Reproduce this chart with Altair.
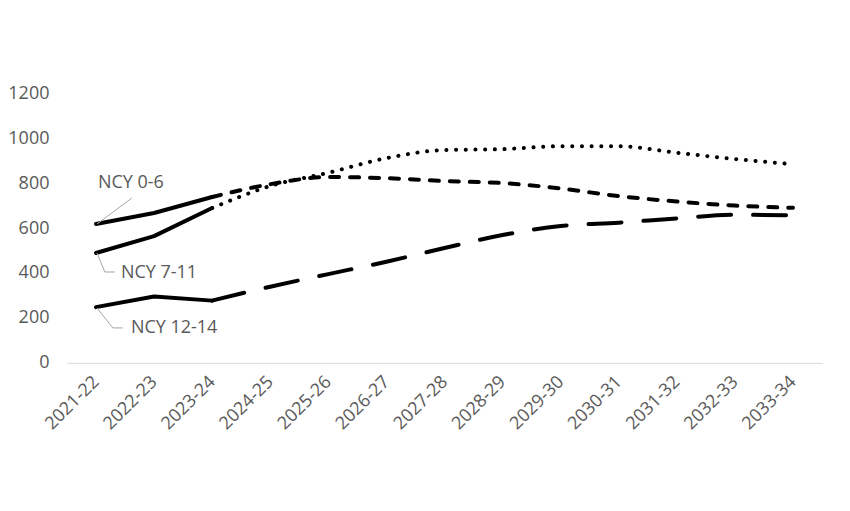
import altair as alt
import pandas as pd

years = ["2021-22", "2022-23", "2023-24", "2024-25", "2025-26", "2026-27", "2027-28",
         "2028-29", "2029-30", "2030-31", "2031-32", "2032-33", "2033-34"]
ncy_0_6 = [618, 667, 738, 795, 827, 822, 809, 800, 776, 742, 718, 700, 690]
ncy_7_11 = [489, 564, 689, 787, 846, 911, 947, 951, 964, 964, 935, 907, 884]
ncy_12_14 = [248, 295, 277, 339, 395, 450, 511, 569, 609, 624, 643, 659, 656]
series_names = ["NCY 0-6", "NCY 7-11", "NCY 12-14"]
n_hist = 3  # first three years are actuals

hist_rows, proj_rows = [], []
for name, vals in zip(series_names, [ncy_0_6, ncy_7_11, ncy_12_14]):
    for i, (y, v) in enumerate(zip(years, vals)):
        if i < n_hist:
            hist_rows.append({"year": y, "value": v, "seg": name})
        if i >= n_hist - 1:
            proj_rows.append({"year": y, "value": v, "seg": name})
hist = pd.DataFrame(hist_rows)
proj = pd.DataFrame(proj_rows)

dash_range = [[9, 11], [0.1, 9.6], [33, 22]]

W, H = 756, 270
font = "Open Sans"
grey = "#595959"

x = alt.X("year:N", sort=years, scale=alt.Scale(type="point", padding=0.5),
          axis=alt.Axis(title=None, labelAngle=-45, labelColor=grey, labelFont=font,
                        labelFontSize=18, ticks=False, domainColor="#d9d9d9",
                        labelPadding=16, labelAlign="right", labelBaseline="middle"))
y = alt.Y("value:Q", scale=alt.Scale(domain=[0, 1200], nice=False),
          axis=alt.Axis(title=None, values=[0, 200, 400, 600, 800, 1000, 1200], format="d",
                        labelColor=grey, labelFont=font, labelFontSize=18, ticks=False,
                        domain=False, grid=False, labelPadding=18))

hist_lines = alt.Chart(hist).mark_line(color="black", strokeWidth=4, strokeCap="round",
                                       strokeJoin="round").encode(
    x=x, y=y, detail="seg:N")

proj_lines = alt.Chart(proj).mark_line(color="black", strokeWidth=4, strokeCap="round",
                                       interpolate="monotone").encode(
    x=x, y=y,
    strokeDash=alt.StrokeDash("seg:N", scale=alt.Scale(domain=series_names, range=dash_range),
                              legend=None),
)

# series labels, anchored on each series' first point
first = pd.DataFrame({"year": [years[0]] * 3,
                      "value": [ncy_0_6[0], ncy_7_11[0], ncy_12_14[0]],
                      "label": series_names})
offsets = [(2, -41), (25, 20), (35, 21)]
texts = []
for i, (dx, dy) in enumerate(offsets):
    texts.append(alt.Chart(first.iloc[[i]]).mark_text(
        align="left", baseline="middle", dx=dx, dy=dy, font=font, fontSize=18, color=grey
    ).encode(x=alt.X("year:N", sort=years), y="value:Q", text="label:N"))

# leader lines (pixel positions relative to plot origin at 67,93)
def seg(x1, y1, x2, y2):
    return alt.Chart(first.iloc[[0]]).mark_rule(color="#a6a6a6", strokeWidth=1).encode(
        x=alt.value(x1), x2=alt.value(x2), y=alt.value(y1), y2=alt.value(y2))

leaders = [
    seg(30, 131, 65, 105),
    seg(30, 160, 38, 179), seg(38, 179, 48, 179),
    seg(30, 215, 46, 235), seg(46, 235, 56, 235),
]

chart = alt.layer(hist_lines, proj_lines, *leaders, *texts).properties(
    width=W, height=H,
    autosize=alt.AutoSizeParams(type="none"),
    padding={"left": 59, "top": 85, "right": 20, "bottom": 140},
).configure(background="white").configure_view(strokeWidth=0)

chart.save("out.html", embed_options={"renderer": "svg", "actions": False})
